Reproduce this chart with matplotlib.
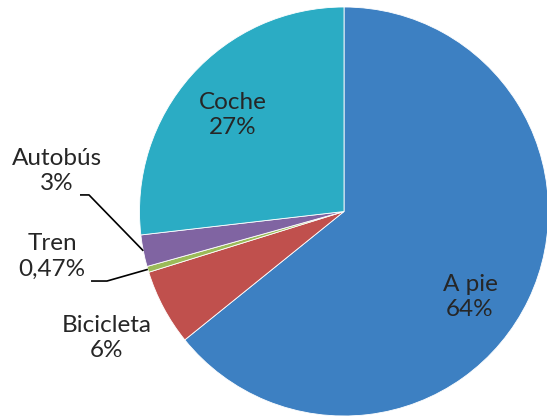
import numpy as np
import matplotlib
matplotlib.use('Agg')
import matplotlib.pyplot as plt

modos = ['A pie', 'Bicicleta', 'Tren', 'Autobús', 'Coche']
valores = [64.2, 6.0, 0.47, 2.5, 26.83]
etiquetas = ['64%', '6%', '0,47%', '3%', '27%']
colores = ['#3D80C2', '#C0504D', '#9BBB59', '#8064A2', '#2BACC4']

# label centres in units of radius, relative to pie centre
pos_lab = [(0.616, -0.418), (-1.159, -0.619), (-1.428, -0.218),
           (-1.403, 0.198), (-0.543, 0.472)]
# leader line (start, elbow) for the small slices
guias = {2: [(-1.237, -0.340), (-1.159, -0.340)],
         3: [(-1.291, 0.081), (-1.247, 0.081)]}

plt.rcParams['font.family'] = ['Lato', 'DejaVu Sans']

W, H = 547, 420
fig = plt.figure(figsize=(W / 100, H / 100), dpi=100)
ax = fig.add_axes([0, 0, 1, 1])

cx, cy, r = 344, H - 211.5, 204.5
wedges, _ = ax.pie(valores, colors=colores, startangle=90, counterclock=False,
                   radius=r, center=(cx, cy),
                   wedgeprops=dict(edgecolor='white', linewidth=0.6))
ax.set_xlim(0, W)
ax.set_ylim(0, H)
ax.set_aspect('equal')
ax.axis('off')

for i, w in enumerate(wedges):
    ux, uy = pos_lab[i]
    ax.text(cx + r * ux, cy + r * uy, modos[i] + '\n' + etiquetas[i],
            ha='center', va='center', fontsize=17.5, color='#262626',
            linespacing=1.28)
    if i in guias:
        ang = np.deg2rad((w.theta1 + w.theta2) / 2)
        pts = guias[i] + [(np.cos(ang), np.sin(ang))]
        xs = [cx + r * p[0] for p in pts]
        ys = [cy + r * p[1] for p in pts]
        ax.plot(xs, ys, color='black', lw=1.2, solid_capstyle='butt')

fig.savefig('out.png', dpi=100)
